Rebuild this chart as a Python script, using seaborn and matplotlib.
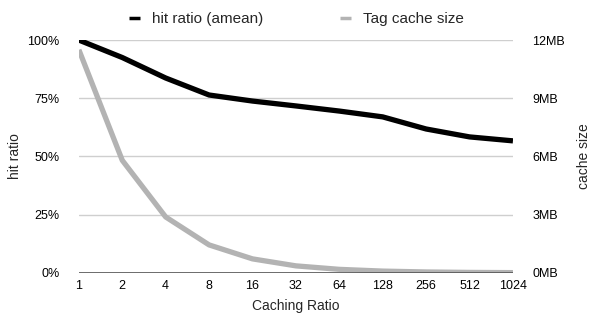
import numpy as np
import pandas as pd
import matplotlib
matplotlib.use('Agg')
import matplotlib.pyplot as plt
import seaborn as sns
from matplotlib.ticker import FuncFormatter, FixedLocator, NullLocator

ratios = [1, 2, 4, 8, 16, 32, 64, 128, 256, 512, 1024]
hit_ratio = [1.00, 0.925, 0.837, 0.764, 0.738, 0.717, 0.695, 0.670, 0.618, 0.584, 0.567]
cache_mb = [11.5, 5.8, 2.88, 1.44, 0.72, 0.36, 0.18, 0.09, 0.045, 0.022, 0.011]

df = pd.DataFrame({'ratio': ratios, 'hit': hit_ratio, 'cache': cache_mb})

sns.set_style('white')
plt.rcParams['font.family'] = ['Liberation Sans', 'DejaVu Sans']

fig = plt.figure(figsize=(5.93, 3.18), dpi=100)
ax = fig.add_axes([0.133, 0.142, 0.732, 0.732])
ax2 = ax.twinx()

sns.lineplot(data=df, x='ratio', y='hit', ax=ax, color='black', linewidth=3.8,
             label='hit ratio (amean)', legend=False, solid_capstyle='butt')
sns.lineplot(data=df, x='ratio', y='cache', ax=ax2, color='#b3b3b3', linewidth=3.8,
             label='Tag cache size', legend=False, solid_capstyle='butt')
ax.set_zorder(ax2.get_zorder() + 1)
ax.patch.set_visible(False)

ax.set_xscale('log', base=2)
ax.set_xlim(1, 1024)
ax.xaxis.set_major_locator(FixedLocator(ratios))
ax.xaxis.set_minor_locator(NullLocator())
ax.xaxis.set_major_formatter(FuncFormatter(lambda v, p: f'{int(round(v))}'))

ax.set_ylim(0, 1)
ax.set_yticks([0, 0.25, 0.5, 0.75, 1.0])
ax.yaxis.set_major_formatter(FuncFormatter(lambda v, p: f'{int(round(v * 100))}%'))
ax2.set_ylim(0, 12)
ax2.set_yticks([0, 3, 6, 9, 12])
ax2.yaxis.set_major_formatter(FuncFormatter(lambda v, p: f'{int(v)}MB'))

ax2.grid(axis='y', color='#cfcfcf', linewidth=1)
ax2.set_axisbelow(True)
ax.grid(False)

for a in (ax, ax2):
    for s in a.spines.values():
        s.set_visible(False)
    a.tick_params(length=0, labelsize=9, colors='black')
ax.tick_params(axis='y', pad=14)
ax2.tick_params(axis='y', pad=14)
ax.tick_params(axis='x', pad=5)
ax.axhline(0, color='#555555', linewidth=1.2, zorder=0)

ax.set_xlabel('Caching Ratio', fontsize=10, labelpad=5)
ax.set_ylabel('hit ratio', fontsize=10)
ax.yaxis.set_label_coords(-0.13, 0.5)
ax2.set_ylabel('cache size', fontsize=10)
ax2.yaxis.set_label_coords(1.148, 0.5)

h1, l1 = ax.get_legend_handles_labels()
h2, l2 = ax2.get_legend_handles_labels()
leg = fig.legend(h1 + h2, l1 + l2, loc='center', bbox_to_anchor=(0.5, 0.94), ncol=2,
                 frameon=False, fontsize=11, handlelength=0.7, columnspacing=5,
                 handletextpad=0.8)
for line in leg.get_lines():
    line.set_linewidth(2.5)

fig.savefig('out.png', dpi=100)
